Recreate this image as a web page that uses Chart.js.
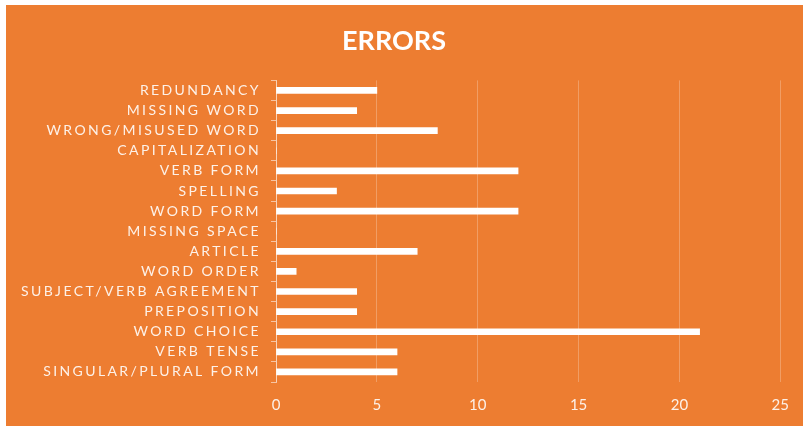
<!DOCTYPE html>
<html>
<head>
<meta charset="utf-8">
<script src="https://cdn.jsdelivr.net/npm/chart.js@4/dist/chart.umd.min.js"></script>
<style>
  html, body { margin: 0; padding: 0; background: #fff; }
  #wrap { position: absolute; left: 6px; top: 5px; width: 797px; height: 421px; background: #ED7D31; }
</style>
</head>
<body>
<div id="wrap"><canvas id="errors"></canvas></div>
<script>
const CATEGORIES = [
  'REDUNDANCY', 'MISSING WORD', 'WRONG/MISUSED WORD', 'CAPITALIZATION', 'VERB FORM',
  'SPELLING', 'WORD FORM', 'MISSING SPACE', 'ARTICLE', 'WORD ORDER',
  'SUBJECT/VERB AGREEMENT', 'PREPOSITION', 'WORD CHOICE', 'VERB TENSE', 'SINGULAR/PLURAL FORM'
];
const ERROR_COUNTS = [5, 4, 8, 0, 12, 3, 12, 0, 7, 1, 4, 4, 21, 6, 6];
const X_TICKS = [0, 5, 10, 15, 20, 25];

// espacement des lettres pour les libellés de catégorie (dessinés après les barres, z: 1)
const letterSpacing = {
  id: 'letterSpacing',
  afterDatasetsDraw(chart) { chart.ctx.letterSpacing = '2.4px'; },
  afterDraw(chart) { chart.ctx.letterSpacing = '0px'; },
};

new Chart(document.getElementById('errors'), {
  type: 'bar',
  data: {
    labels: CATEGORIES,
    datasets: [{
      data: ERROR_COUNTS,
      backgroundColor: '#ffffff',
      borderWidth: 0,
      barThickness: 6,
    }],
  },
  plugins: [letterSpacing],
  options: {
    indexAxis: 'y',
    responsive: true,
    maintainAspectRatio: false,
    animation: false,
    layout: { padding: { left: 0, right: 21, top: 0, bottom: 0 } },
    plugins: {
      legend: { display: false },
      tooltip: { enabled: false },
      title: {
        display: true,
        text: 'ERRORS',
        color: '#ffffff',
        font: { family: 'Lato', size: 27, weight: 'bold' },
        padding: { top: 20, bottom: 23 },
      },
    },
    scales: {
      x: {
        min: 0,
        max: 25,
        afterBuildTicks(axis) { axis.ticks = X_TICKS.map(v => ({ value: v })); },
        afterFit(axis) { axis.height = 44; },
        grid: { color: 'rgba(255,255,255,0.25)', drawTicks: false },
        border: { display: false },
        ticks: { color: '#fdf1e8', padding: 14, font: { family: 'Lato', size: 15 } },
      },
      y: {
        afterFit(axis) { axis.width = 270; },
        grid: { drawOnChartArea: false, drawTicks: true, tickLength: 5, color: 'rgba(255,255,255,0.55)' },
        border: { color: 'rgba(255,255,255,0.55)', width: 1 },
        ticks: { color: '#fdf1e8', padding: 10, z: 1, autoSkip: false, font: { family: 'Lato', size: 14 } },
      },
    },
  },
});
</script>
</body>
</html>
